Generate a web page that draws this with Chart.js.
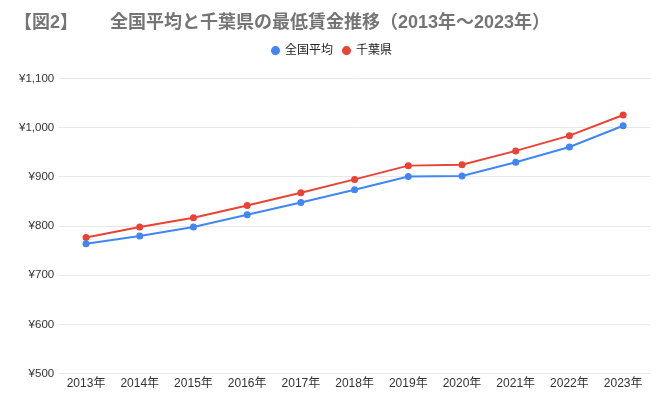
<!DOCTYPE html>
<html>
<head>
<meta charset="utf-8">
<script src="https://cdn.jsdelivr.net/npm/chart.js@4"></script>
<style>
  body { margin: 0; background: #fff; }
  #wrap { width: 664px; height: 401px; }
</style>
</head>
<body>
<div id="wrap"><canvas id="line"></canvas></div>
<script>
var years = ["2013年", "2014年", "2015年", "2016年", "2017年", "2018年", "2019年", "2020年", "2021年", "2022年", "2023年"];
var national = [764, 780, 798, 823, 848, 874, 901, 902, 930, 961, 1004];
var chiba = [777, 798, 817, 842, 868, 895, 923, 925, 953, 984, 1026];
var yTicks = [500, 600, 700, 800, 900, 1000, 1100];

var font = "'Liberation Sans', Arial, 'Noto Sans CJK JP', sans-serif";

// a bit more room under the legend
var legendGap = {
  id: "legendGap",
  beforeInit: function (chart) {
    var fit = chart.legend.fit;
    chart.legend.fit = function () {
      fit.bind(chart.legend)();
      this.height += 12;
    };
  },
};

var ctx = document.getElementById("line").getContext("2d");
var myChart = new Chart(ctx, {
  type: "line",
  data: {
    labels: years,
    datasets: [
      {
        label: "全国平均",
        data: national,
        borderColor: "#4285f4",
        backgroundColor: "#4285f4",
        borderWidth: 2,
        pointRadius: 2.5,
        tension: 0,
      },
      {
        label: "千葉県",
        data: chiba,
        borderColor: "#ea4335",
        backgroundColor: "#ea4335",
        borderWidth: 2,
        pointRadius: 2.5,
        tension: 0,
      },
    ],
  },
  plugins: [legendGap],
  options: {
    responsive: true,
    maintainAspectRatio: false,
    animation: false,
    layout: { padding: { left: 14, right: 14, top: 0, bottom: 7 } },
    plugins: {
      title: {
        display: true,
        text: "【図2】　　 全国平均と千葉県の最低賃金推移（2013年～2023年）",
        align: "start",
        color: "#757575",
        font: { family: font, size: 18, weight: "bold" },
        padding: { top: 12, bottom: 1 },
      },
      legend: {
        labels: {
          usePointStyle: true,
          pointStyle: "circle",
          boxWidth: 7,
          boxHeight: 5,
          color: "#222",
          font: { family: font, size: 12 },
          padding: 10,
        },
      },
      tooltip: { enabled: false },
    },
    scales: {
      x: {
        offset: true,
        grid: { display: false, drawTicks: false },
        border: { display: false },
        ticks: { color: "#333", font: { family: font, size: 12 }, maxRotation: 0, padding: 3 },
      },
      y: {
        min: 500,
        max: 1100,
        afterBuildTicks: function (axis) {
          axis.ticks = yTicks.map(function (v) { return { value: v }; });
        },
        grid: { color: "#e8e8e8", drawTicks: false },
        border: { display: false },
        ticks: {
          color: "#333",
          font: { family: font, size: 11.5 },
          padding: 5,
          callback: function (v) { return "¥" + v.toLocaleString("en-US"); },
        },
      },
    },
  },
});
</script>
</body>
</html>
